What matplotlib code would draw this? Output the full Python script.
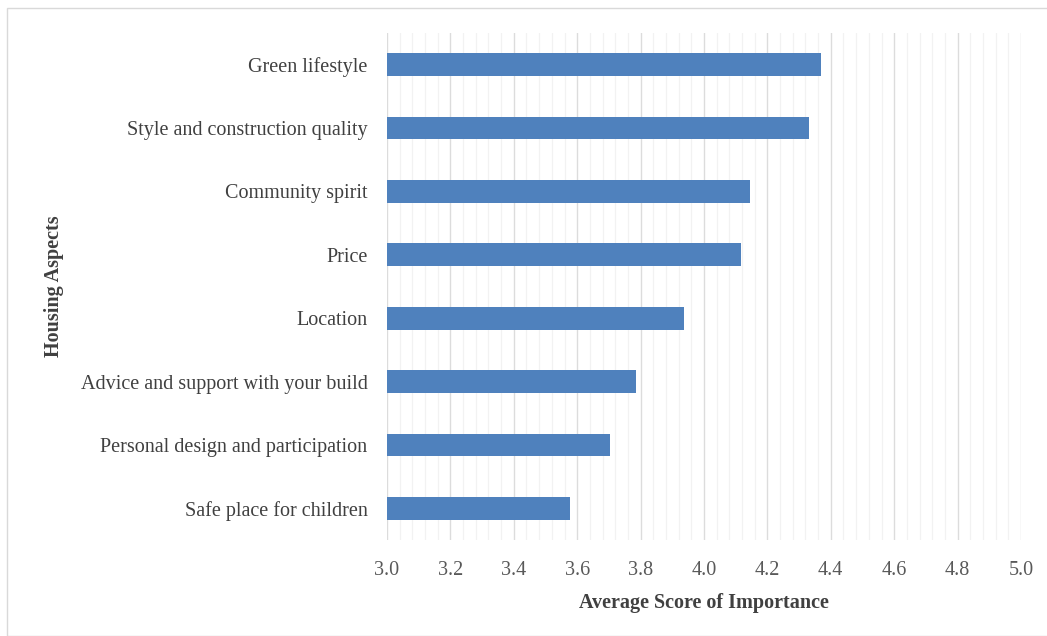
import matplotlib.pyplot as plt
import numpy as np
from matplotlib.patches import Rectangle

# Housing aspects (top to bottom as shown) and their average scores
aspects = [
    'Green lifestyle',
    'Style and construction quality',
    'Community spirit',
    'Price',
    'Location',
    'Advice and support with your build',
    'Personal design and participation',
    'Safe place for children',
]
scores = [4.37, 4.33, 4.145, 4.117, 3.937, 3.785, 3.703, 3.577]
x_ticks = [3.0, 3.2, 3.4, 3.6, 3.8, 4.0, 4.2, 4.4, 4.6, 4.8, 5.0]

plt.rcParams['font.family'] = ['Liberation Serif', 'DejaVu Serif']

fig = plt.figure(figsize=(10.47, 6.36), dpi=100)
ax = fig.add_axes([387 / 1047, 1 - 540 / 636, (1021 - 387) / 1047, (540 - 33) / 636])

y = np.arange(len(aspects))
ax.barh(y, scores, height=0.36, left=0, color='#4f81bd', zorder=3)

ax.set_xlim(3.0, 5.0)
ax.set_ylim(len(aspects) - 0.5, -0.5)
ax.set_xticks(x_ticks)
ax.set_xticklabels([f'{t:.1f}' for t in x_ticks], fontsize=14.5, color='#595959')
ax.set_xticks(np.arange(3.0, 5.0001, 0.04), minor=True)
ax.set_yticks(y)
ax.set_yticklabels(aspects, fontsize=14.5, color='#404040')

ax.grid(axis='x', which='major', color='#dcdcdc', linewidth=1.0, zorder=0)
ax.grid(axis='x', which='minor', color='#f2f2f2', linewidth=0.9, zorder=0)
ax.tick_params(axis='both', which='both', length=0)
ax.tick_params(axis='x', pad=15)
ax.tick_params(axis='y', pad=14)
for s in ax.spines.values():
    s.set_visible(False)

ax.set_xlabel('Average Score of Importance', fontsize=14.5, fontweight='bold',
              color='#404040')
ax.xaxis.set_label_coords(0.5, -0.105)
ax.set_ylabel('Housing Aspects', fontsize=14.5, fontweight='bold', color='#404040')
ax.yaxis.set_label_coords(-0.51, 0.5)

# light frame around the whole chart
fig.patches.append(Rectangle((7 / 1047, 0), 1.2, 1 - 8 / 636, transform=fig.transFigure,
                             fill=False, edgecolor='#d9d9d9', linewidth=1.0))

fig.savefig('out.png', dpi=100)
